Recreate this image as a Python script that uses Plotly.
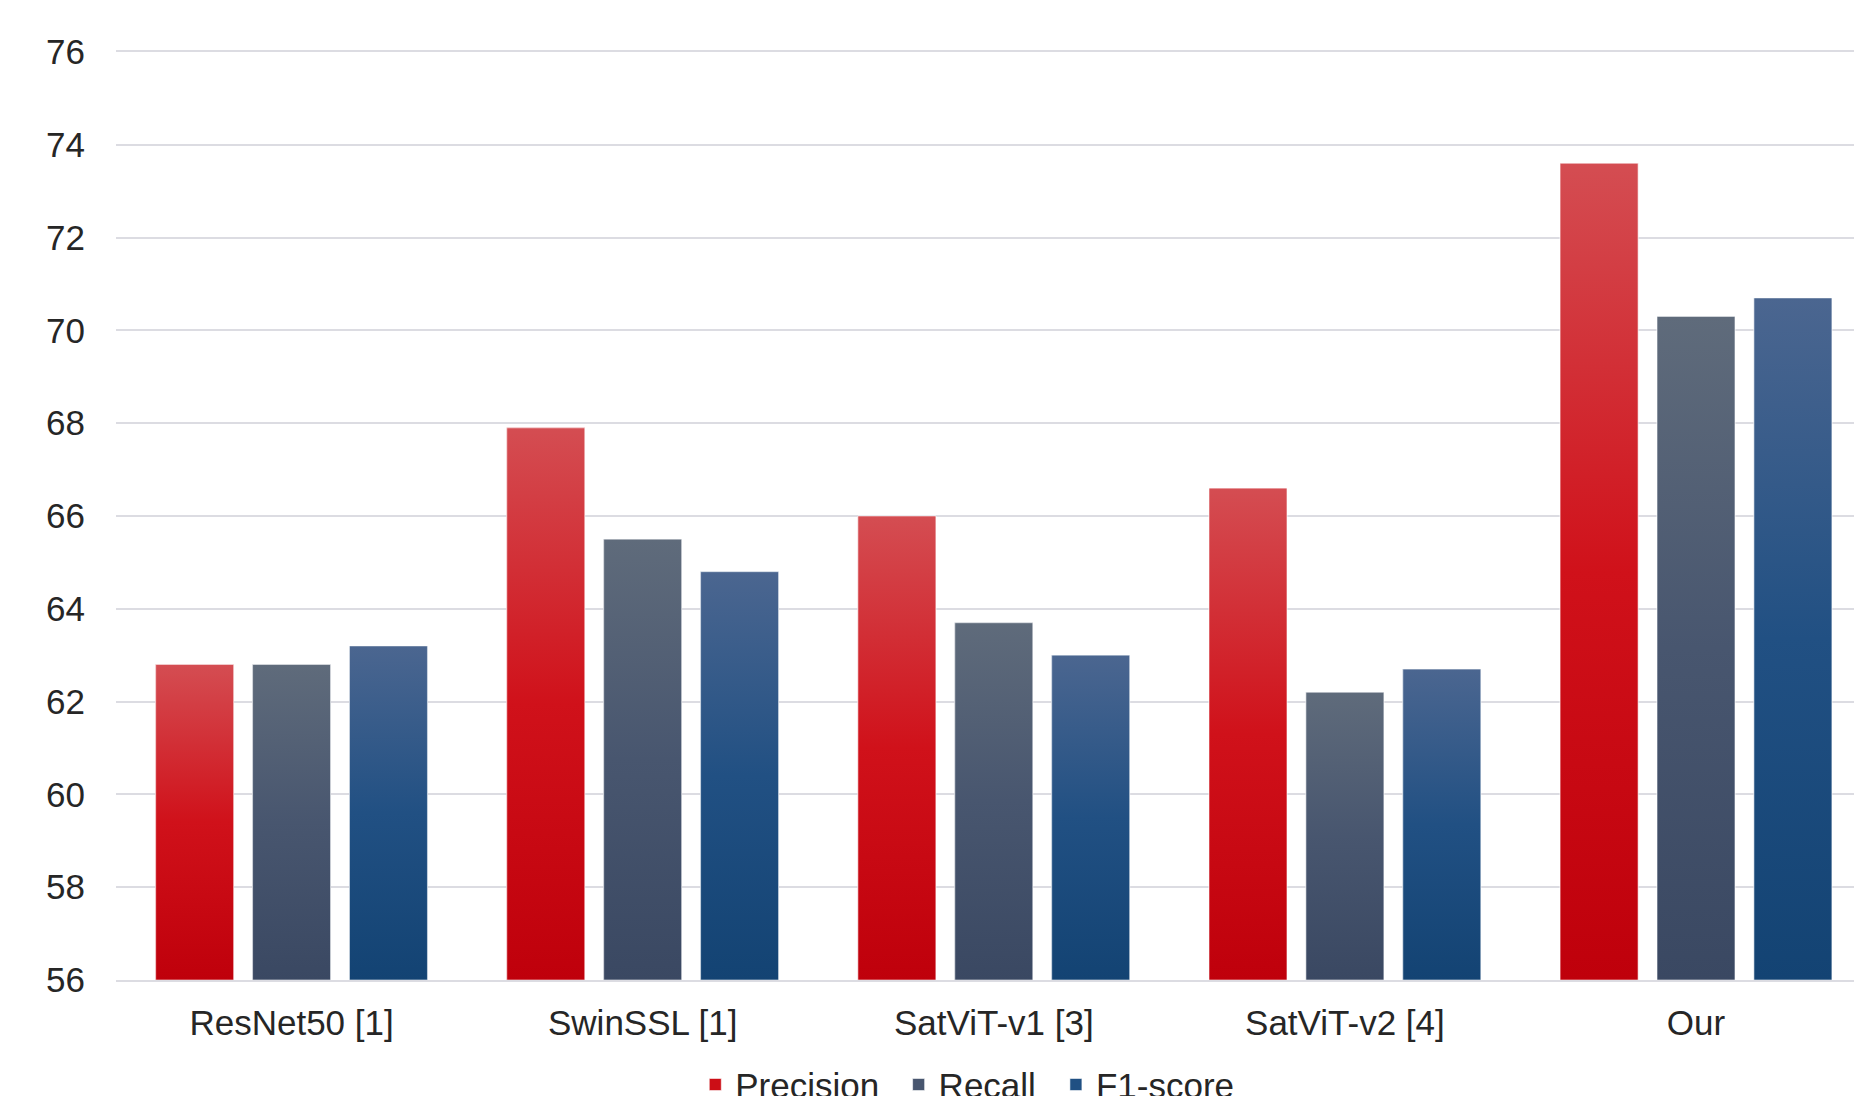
import plotly.graph_objects as go

# Methods compared and their scores (%)
methods = ["ResNet50 [1]", "SwinSSL [1]", "SatViT-v1 [3]", "SatViT-v2 [4]", "Our"]
precision = [62.8, 67.9, 66.0, 66.6, 73.6]
recall = [62.8, 65.5, 63.7, 62.2, 70.3]
f1_score = [63.2, 64.8, 63.0, 62.7, 70.7]

series_names = ["Precision", "Recall", "F1-score"]
y_ticks = [56, 58, 60, 62, 64, 66, 68, 70, 72, 74, 76]

# Vertical gradients per series: bottom -> top
gradients = {
    "Precision": [[0.0, "#BF000B"], [0.5, "#D0111A"], [1.0, "#D44D52"]],
    "Recall": [[0.0, "#3A4862"], [0.5, "#48566F"], [1.0, "#5F6B7B"]],
    "F1-score": [[0.0, "#134373"], [0.5, "#215083"], [1.0, "#4B6690"]],
}
solid = {"Precision": "#CC0E16", "Recall": "#48566F", "F1-score": "#205083"}

BAR_W = 0.222
PITCH = 0.276
offsets = [-PITCH, 0.0, PITCH]
Y_MIN, Y_MAX = y_ticks[0], y_ticks[-1]
FONT = "Liberation Sans, Arial, sans-serif"
EDGE = "rgba(255,255,255,0.55)"
GRID = "#DCDCE2"

# one legend box per series so the entries can be spaced freely
legend_ids = ["legend", "legend2", "legend3"]
legend_x = [0.3333, 0.4503, 0.5408]

fig = go.Figure()

idx = list(range(len(methods)))
for name, vals, off, lg in zip(series_names, [precision, recall, f1_score], offsets, legend_ids):
    # Base bars (carry the data, hover and legend entries)
    fig.add_trace(go.Bar(
        x=idx, y=vals, name=name, width=BAR_W, offset=off - BAR_W / 2,
        marker=dict(color=solid[name], line=dict(color=EDGE, width=1)),
        customdata=methods, legend=lg,
        hovertemplate="%{customdata}<br>" + name + ": %{y}<extra></extra>",
    ))
    # Gradient face of each bar, spanning the visible part of the bar
    for i, v in enumerate(vals):
        x0 = i + off - BAR_W / 2
        x1 = i + off + BAR_W / 2
        fig.add_trace(go.Scatter(
            x=[x0, x1, x1, x0, x0], y=[Y_MIN, Y_MIN, v, v, Y_MIN],
            mode="lines", fill="toself",
            line=dict(color=EDGE, width=1),
            fillgradient=dict(type="vertical", colorscale=gradients[name]),
            showlegend=False, hoverinfo="skip",
        ))

legend_style = dict(
    orientation="h", xanchor="left", y=-0.0811, yanchor="top",
    font=dict(family=FONT, size=35, color="#262626"),
    bgcolor="rgba(0,0,0,0)", itemclick=False,
)

fig.update_layout(
    width=1854, height=1096,
    margin=dict(l=116, r=0, t=52, b=116, autoexpand=False),
    plot_bgcolor="white", paper_bgcolor="white",
    font=dict(family=FONT, size=35, color="#262626"),
    barmode="overlay",
    showlegend=True,
    legend=dict(x=legend_x[0], **legend_style),
    legend2=dict(x=legend_x[1], **legend_style),
    legend3=dict(x=legend_x[2], **legend_style),
)

fig.update_xaxes(
    range=[-0.5, 4.45], tickmode="array", tickvals=idx, ticktext=methods,
    showgrid=False, zeroline=False, showline=True, mirror=True,
    linecolor=GRID, linewidth=2,
    ticks="", ticklabelstandoff=11,
    tickfont=dict(family=FONT, size=35, color="#262626"),
)
fig.update_yaxes(
    range=[Y_MIN, Y_MAX], tickmode="array", tickvals=y_ticks,
    showgrid=True, gridcolor=GRID, gridwidth=2, zeroline=False,
    showline=False, ticks="", ticklabelstandoff=30,
    tickfont=dict(family=FONT, size=35, color="#262626"),
)

fig.write_html("out.html")
